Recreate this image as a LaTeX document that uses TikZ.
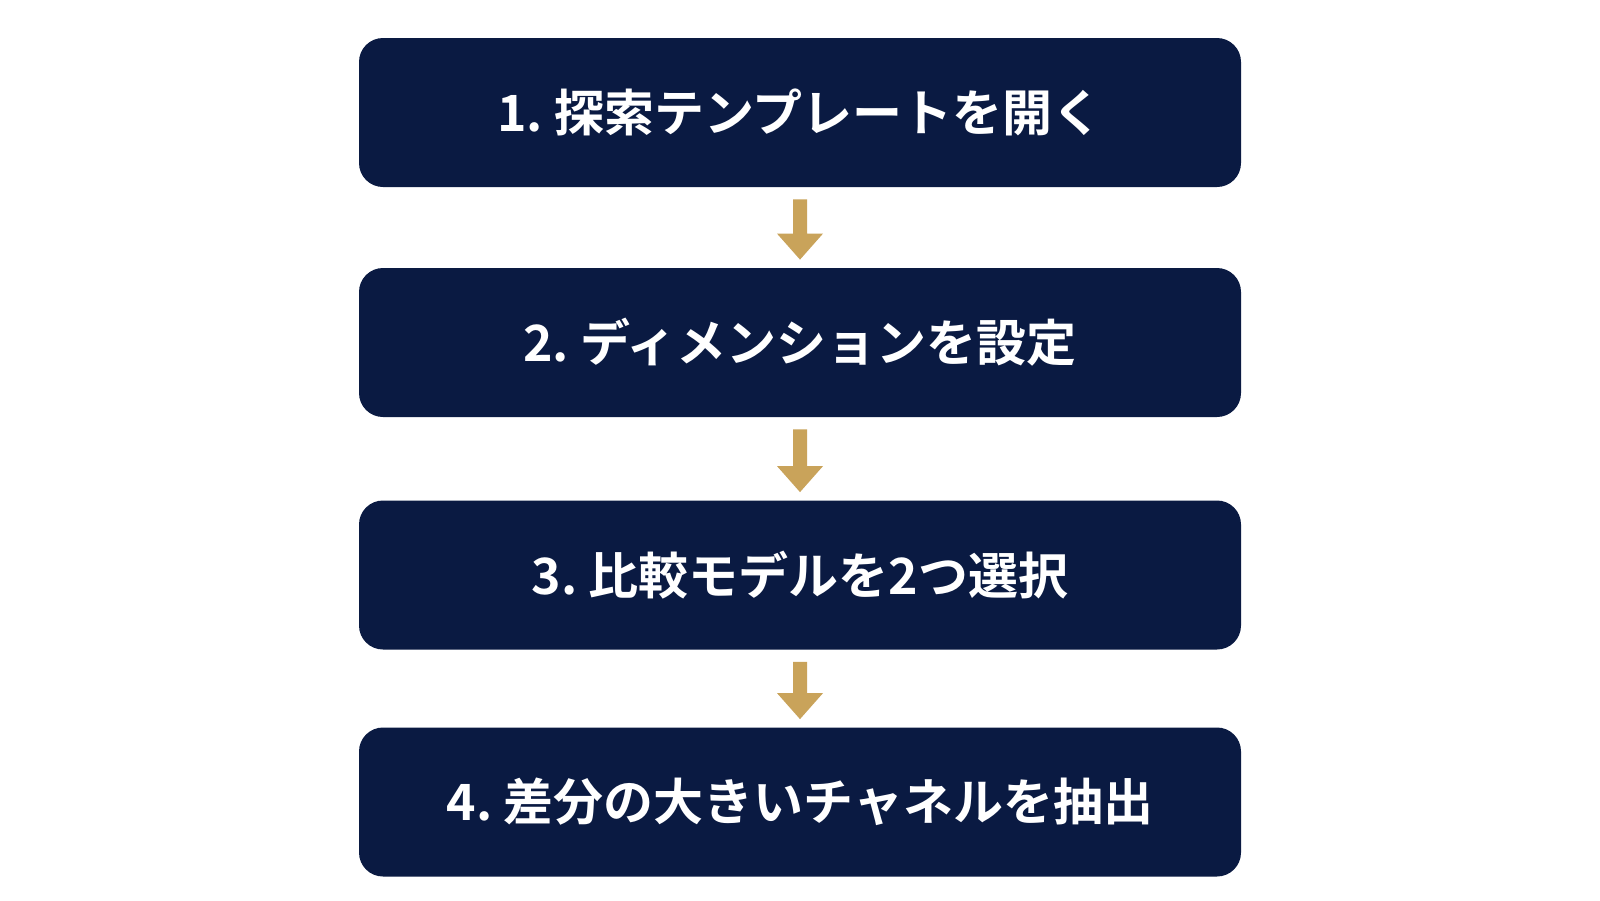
\documentclass[tikz,border=0pt]{standalone}
\usepackage{fontspec}
\usetikzlibrary{calc}
\setmainfont{Noto Sans CJK JP}[BoldFont={* Bold}]
\definecolor{navy}{HTML}{0A1A42}
\definecolor{gold}{HTML}{C9A35A}
\begin{document}
\begin{tikzpicture}[x=0.5pt,y=-0.5pt,
  box/.style={fill=navy,rounded corners=12pt,minimum width=441pt,minimum height=74.5pt,inner sep=0pt,text=white,font=\fontsize{25}{30}\selectfont\bfseries},
  arr/.style={fill=gold}]
\useasboundingbox (0,0) rectangle (1600,900);
\fill[white] (0,0) rectangle (1600,900);
\node[box] (b1) at (800,112.5) {1.\ 探索テンプレートを開く};
\node[box] (b2) at (800,342.5) {2.\ ディメンションを設定};
\node[box] (b3) at (800,575) {3.\ 比較モデルを2つ選択};
\node[box] (b4) at (800,802) {4.\ 差分の大きいチャネルを抽出};
\foreach \a/\b in {b1/b2,b2/b3,b3/b4}{
  \path (\a.south) ++(0,12) coordinate (s) (\b.north) ++(0,-8) coordinate (e);
  \fill[gold] ($(s)+(-7,0)$) -- ($(s)+(7,0)$) -- ($(e)+(7,-26)$) -- ($(e)+(23,-26)$) -- (e) -- ($(e)+(-23,-26)$) -- ($(e)+(-7,-26)$) -- cycle;
}
\end{tikzpicture}
\end{document}
